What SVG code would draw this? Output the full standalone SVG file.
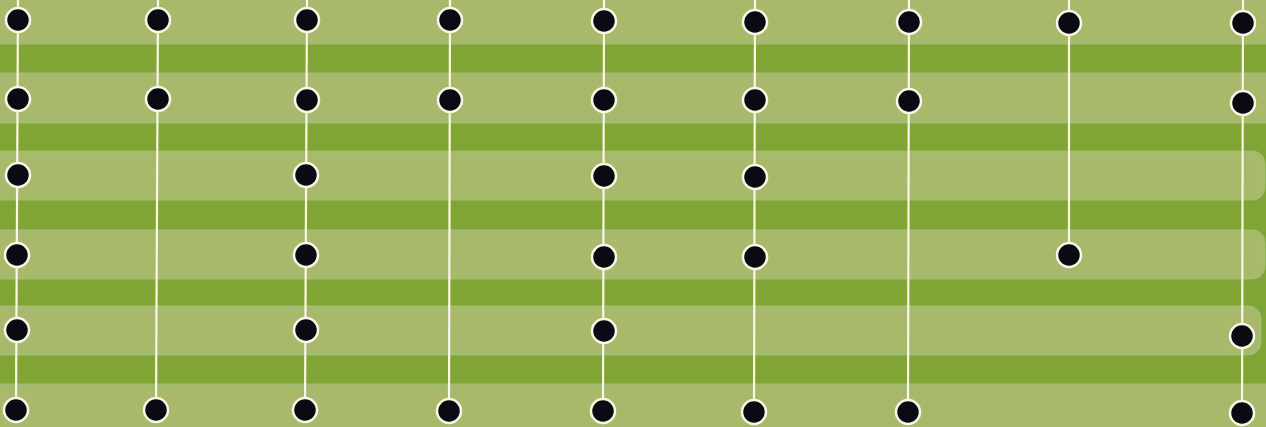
<svg xmlns="http://www.w3.org/2000/svg" width="1266" height="427" viewBox="0 0 1266 427">
<style>
.bg{fill:#80a535}
.band{fill:#a8b96c;stroke:#a2bc70;stroke-width:3}
.wire{stroke:#f8f8e4;stroke-width:2.2;fill:none}
.dot{fill:#0a0a12;stroke:#f8f8e6;stroke-width:2.5}
</style>
<defs>
<circle id="d" r="12" class="dot"/>
</defs>
<rect class="bg" x="0" y="0" width="1266" height="427"/>
<g id="bands">
<rect class="band" x="-30" y="-20" width="1310" height="63" rx="12"/>
<rect class="band" x="-30" y="74" width="1310" height="48" rx="12"/>
<rect class="band" x="-30" y="152" width="1294" height="47" rx="12"/>
<rect class="band" x="-30" y="231" width="1294" height="47" rx="12"/>
<rect class="band" x="-30" y="307" width="1290" height="47" rx="12"/>
<rect class="band" x="-30" y="385" width="1310" height="70" rx="12"/>
</g>
<g id="connectors">
<line class="wire" x1="18" y1="0" x2="16" y2="410"/>
<line class="wire" x1="158" y1="0" x2="156" y2="410"/>
<line class="wire" x1="307" y1="0" x2="305" y2="410"/>
<line class="wire" x1="450" y1="0" x2="449" y2="411"/>
<line class="wire" x1="604" y1="0" x2="603" y2="411"/>
<line class="wire" x1="755" y1="0" x2="754" y2="412"/>
<line class="wire" x1="909" y1="0" x2="908" y2="412"/>
<line class="wire" x1="1069" y1="0" x2="1069" y2="255"/>
<line class="wire" x1="1243" y1="0" x2="1242" y2="413"/>
</g>
<g id="c1">
<g id="n1-1"><use href="#d" x="18" y="20"/></g>
<g id="n1-2"><use href="#d" x="18" y="99"/></g>
<g id="n1-3"><use href="#d" x="18" y="175"/></g>
<g id="n1-4"><use href="#d" x="17" y="255"/></g>
<g id="n1-5"><use href="#d" x="17" y="330"/></g>
<g id="n1-6"><use href="#d" x="16" y="410"/></g>
</g>
<g id="c2">
<g id="n2-1"><use href="#d" x="158" y="20"/></g>
<g id="n2-2"><use href="#d" x="158" y="99"/></g>
<g id="n2-3"><use href="#d" x="156" y="410"/></g>
</g>
<g id="c3">
<g id="n3-1"><use href="#d" x="307" y="20"/></g>
<g id="n3-2"><use href="#d" x="307" y="100"/></g>
<g id="n3-3"><use href="#d" x="306" y="175"/></g>
<g id="n3-4"><use href="#d" x="306" y="255"/></g>
<g id="n3-5"><use href="#d" x="306" y="330"/></g>
<g id="n3-6"><use href="#d" x="305" y="410"/></g>
</g>
<g id="c4">
<g id="n4-1"><use href="#d" x="450" y="20"/></g>
<g id="n4-2"><use href="#d" x="450" y="100"/></g>
<g id="n4-3"><use href="#d" x="449" y="411"/></g>
</g>
<g id="c5">
<g id="n5-1"><use href="#d" x="604" y="21"/></g>
<g id="n5-2"><use href="#d" x="604" y="100"/></g>
<g id="n5-3"><use href="#d" x="604" y="176"/></g>
<g id="n5-4"><use href="#d" x="604" y="257"/></g>
<g id="n5-5"><use href="#d" x="604" y="331"/></g>
<g id="n5-6"><use href="#d" x="603" y="411"/></g>
</g>
<g id="c6">
<g id="n6-1"><use href="#d" x="755" y="22"/></g>
<g id="n6-2"><use href="#d" x="755" y="100"/></g>
<g id="n6-3"><use href="#d" x="755" y="177"/></g>
<g id="n6-4"><use href="#d" x="755" y="257"/></g>
<g id="n6-5"><use href="#d" x="754" y="412"/></g>
</g>
<g id="c7">
<g id="n7-1"><use href="#d" x="909" y="22"/></g>
<g id="n7-2"><use href="#d" x="909" y="101"/></g>
<g id="n7-3"><use href="#d" x="908" y="412"/></g>
</g>
<g id="c8">
<g id="n8-1"><use href="#d" x="1069" y="23"/></g>
<g id="n8-2"><use href="#d" x="1069" y="255"/></g>
</g>
<g id="c9">
<g id="n9-1"><use href="#d" x="1243" y="23"/></g>
<g id="n9-2"><use href="#d" x="1243" y="103"/></g>
<g id="n9-3"><use href="#d" x="1242" y="336"/></g>
<g id="n9-4"><use href="#d" x="1242" y="413"/></g>
</g>
</svg>
